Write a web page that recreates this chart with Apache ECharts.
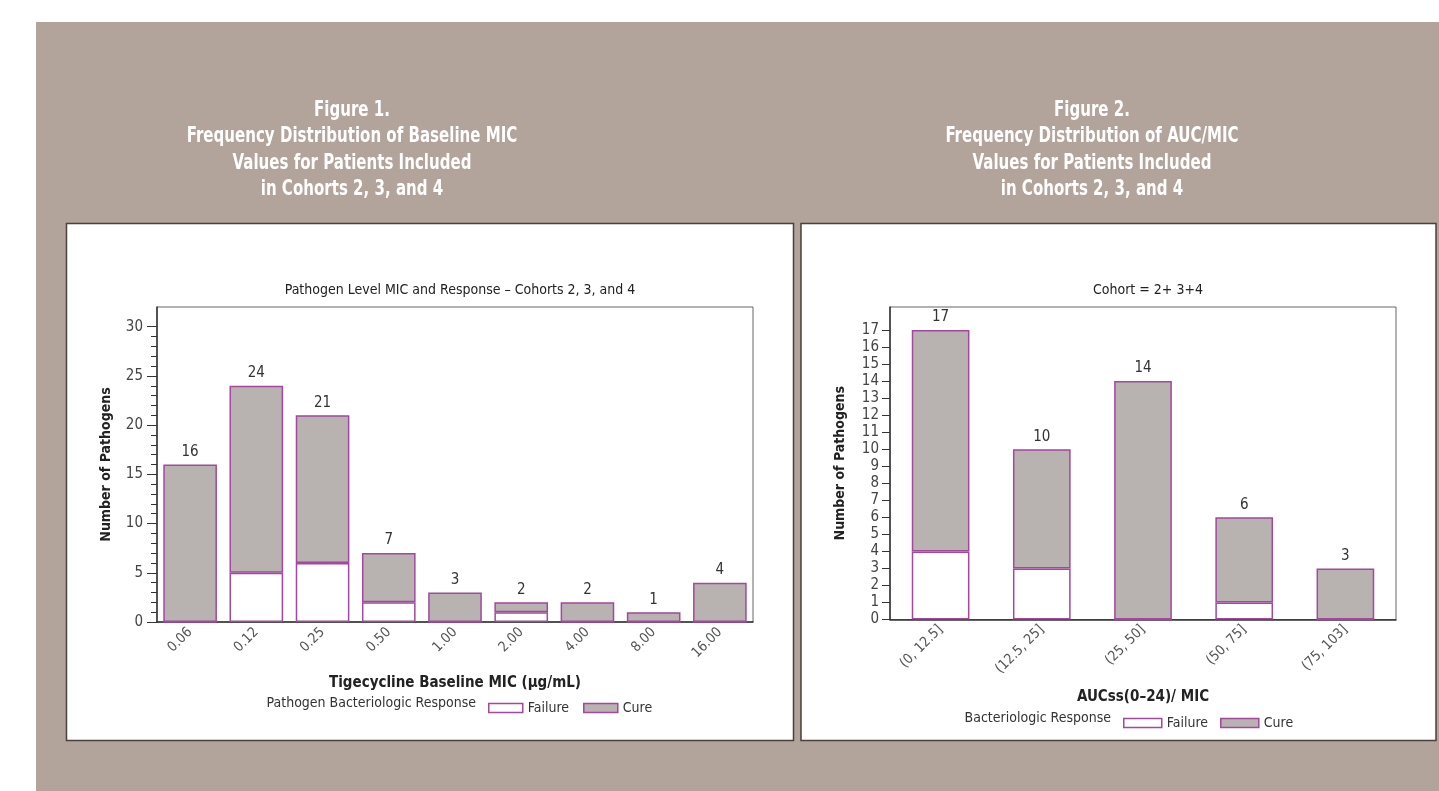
<!DOCTYPE html>
<html>
<head>
<meta charset="utf-8">
<title>Frequency Distribution of Baseline MIC and AUC/MIC</title>
<script src="https://cdn.jsdelivr.net/npm/echarts@6/dist/echarts.min.js"></script>
<style>
  html, body { margin: 0; padding: 0; background: #ffffff; }
  #chart { width: 1439px; height: 791px; }
</style>
</head>
<body>
<div id="chart"></div>
<script>
// Figure 1: pathogens by tigecycline baseline MIC (µg/mL)
const micCategories = ['0.06', '0.12', '0.25', '0.50', '1.00', '2.00', '4.00', '8.00', '16.00'];
const micFailure = [0, 5, 6, 2, 0, 1, 0, 0, 0];
const micCure = [16, 19, 15, 5, 3, 1, 2, 1, 4];
const micTotal = [16, 24, 21, 7, 3, 2, 2, 1, 4];
const micMajorTicks = [0, 5, 10, 15, 20, 25, 30];
const micMinorTicks = [0, 1, 2, 3, 4, 5, 6, 7, 8, 9, 10, 11, 12, 13, 14, 15, 16, 17, 18, 19, 20, 21, 22, 23, 24, 25, 26, 27, 28, 29, 30];

// Figure 2: pathogens by AUCss(0-24)/MIC interval
const aucCategories = ['(0, 12.5]', '(12.5, 25]', '(25, 50]', '(50, 75]', '(75, 103]'];
const aucFailure = [4, 3, 0, 1, 0];
const aucCure = [13, 7, 14, 5, 3];
const aucTotal = [17, 10, 14, 6, 3];
const aucTicks = [0, 1, 2, 3, 4, 5, 6, 7, 8, 9, 10, 11, 12, 13, 14, 15, 16, 17];

const FONT = '"Liberation Sans Narrow", "Arial Narrow", "DejaVu Sans Condensed", sans-serif';
const TAN = '#b2a39b';
const PURPLE = '#a3479f';
const GREY = '#b8b3b1';
const INK = '#333333';

const chart = echarts.init(document.getElementById('chart'), null, { renderer: 'canvas' });

// White condensed headline block above each panel
function header(lines, cx) {
  const y0 = 110, step = 26.5;
  return lines.map((t, i) => ({
    type: 'text', z: -1, silent: true,
    x: cx, y: y0 + i * step, scaleX: 0.76,
    style: {
      text: t, x: 0, y: 0,
      fill: '#ffffff', font: 'bold 22px ' + FONT,
      textAlign: 'center', textVerticalAlign: 'middle'
    }
  }));
}

function captionText(t, x, y, align) {
  return {
    type: 'text', silent: true,
    style: { text: t, x: x, y: y, fill: INK, font: '14px ' + FONT, textAlign: align, textVerticalAlign: 'middle' }
  };
}

const barLabel = (totals) => ({
  show: true, position: 'top', distance: 5,
  fontFamily: FONT, fontSize: 15, color: INK,
  formatter: (p) => String(totals[p.dataIndex])
});

const failStyle = { color: '#ffffff', borderColor: PURPLE, borderWidth: 1.5 };
const cureStyle = { color: GREY, borderColor: PURPLE, borderWidth: 1.5 };

const option = {
  animation: false,
  backgroundColor: '#ffffff',
  textStyle: { fontFamily: FONT },
  graphic: [
    { type: 'rect', z: -3, silent: true, shape: { x: 36, y: 22, width: 1403, height: 769 }, style: { fill: TAN } },
    { type: 'rect', z: -2, silent: true, shape: { x: 66.5, y: 223.5, width: 727, height: 517 }, style: { fill: '#ffffff', stroke: '#4a403c', lineWidth: 1.5 } },
    { type: 'rect', z: -2, silent: true, shape: { x: 801, y: 223.5, width: 635, height: 517 }, style: { fill: '#ffffff', stroke: '#4a403c', lineWidth: 1.5 } },
    ...header(['Figure 1.', 'Frequency Distribution of Baseline MIC', 'Values for Patients Included', 'in Cohorts 2, 3, and 4'], 352),
    ...header(['Figure 2.', 'Frequency Distribution of AUC/MIC', 'Values for Patients Included', 'in Cohorts 2, 3, and 4'], 1092),
    captionText('Pathogen Bacteriologic Response', 476, 703, 'right'),
    captionText('Bacteriologic Response', 1111, 718, 'right')
  ],
  title: [
    { text: 'Pathogen Level MIC and Response \u2013 Cohorts 2, 3, and 4', left: 455, top: 278, textAlign: 'center',
      textStyle: { fontFamily: FONT, fontSize: 14, fontWeight: 'normal', color: '#222' } },
    { text: 'Cohort = 2+ 3+4', left: 1143, top: 278, textAlign: 'center',
      textStyle: { fontFamily: FONT, fontSize: 14, fontWeight: 'normal', color: '#222' } }
  ],
  legend: [
    { left: 483, top: 696, itemWidth: 34, itemHeight: 9, itemGap: 14, icon: 'rect',
      textStyle: { fontFamily: FONT, fontSize: 14, color: INK },
      data: [{ name: 'Failure', itemStyle: failStyle }, { name: 'Cure', itemStyle: cureStyle }] },
    { left: 1118, top: 711, itemWidth: 38, itemHeight: 9, itemGap: 12, icon: 'rect',
      textStyle: { fontFamily: FONT, fontSize: 14, color: INK },
      data: [{ name: 'Failure', itemStyle: failStyle }, { name: 'Cure', itemStyle: cureStyle }] }
  ],
  grid: [
    { left: 157, top: 307, width: 596, height: 315, show: true, backgroundColor: 'transparent', borderColor: '#666', borderWidth: 1 },
    { left: 890, top: 307, width: 506, height: 312.5, show: true, backgroundColor: 'transparent', borderColor: '#666', borderWidth: 1 }
  ],
  xAxis: [
    { type: 'category', gridIndex: 0, data: micCategories,
      axisLine: { lineStyle: { color: INK, width: 1.5 } }, axisTick: { show: false },
      axisLabel: { rotate: 45, margin: 8, fontFamily: FONT, fontSize: 14, color: '#555' },
      name: 'Tigecycline Baseline MIC (\u00b5g/mL)', nameLocation: 'middle', nameGap: 54,
      nameTextStyle: { fontFamily: FONT, fontSize: 15, fontWeight: 'bold', color: '#222' } },
    { type: 'category', gridIndex: 1, data: aucCategories,
      axisLine: { lineStyle: { color: INK, width: 1.5 } }, axisTick: { show: false },
      axisLabel: { rotate: 45, margin: 8, fontFamily: FONT, fontSize: 14, color: '#555' },
      name: 'AUCss(0\u201324)/ MIC', nameLocation: 'middle', nameGap: 70,
      nameTextStyle: { fontFamily: FONT, fontSize: 15, fontWeight: 'bold', color: '#222' } }
  ],
  yAxis: [
    { type: 'value', gridIndex: 0, min: 0, max: 32, position: 'left',
      splitLine: { show: false },
      axisLine: { show: true, lineStyle: { color: INK, width: 1.5 } },
      axisTick: { show: true, length: 6, customValues: micMinorTicks, lineStyle: { color: INK } },
      axisLabel: { customValues: micMajorTicks, margin: 14, fontFamily: FONT, fontSize: 15, color: '#444' },
      name: 'Number of Pathogens', nameLocation: 'middle', nameGap: 44,
      nameTextStyle: { fontFamily: FONT, fontSize: 14, fontWeight: 'bold', color: '#222' } },
    { type: 'value', gridIndex: 0, min: 0, max: 32, position: 'left', offset: 0,
      splitLine: { show: false }, axisLine: { show: false },
      axisTick: { show: true, length: 10, customValues: micMajorTicks, lineStyle: { color: INK } },
      axisLabel: { show: false } },
    { type: 'value', gridIndex: 1, min: 0, max: 18.35, position: 'left',
      splitLine: { show: false },
      axisLine: { show: true, lineStyle: { color: INK, width: 1.5 } },
      axisTick: { show: true, length: 8, customValues: aucTicks, lineStyle: { color: INK } },
      axisLabel: { customValues: aucTicks, margin: 11, fontFamily: FONT, fontSize: 15, color: '#444' },
      name: 'Number of Pathogens', nameLocation: 'middle', nameGap: 43,
      nameTextStyle: { fontFamily: FONT, fontSize: 14, fontWeight: 'bold', color: '#222' } }
  ],
  series: [
    { name: 'Failure', type: 'bar', xAxisIndex: 0, yAxisIndex: 0, stack: 'mic', barWidth: '81%',
      data: micFailure, itemStyle: failStyle },
    { name: 'Cure', type: 'bar', xAxisIndex: 0, yAxisIndex: 0, stack: 'mic', barWidth: '81%',
      data: micCure, itemStyle: cureStyle, label: barLabel(micTotal) },
    { name: 'Failure', type: 'bar', xAxisIndex: 1, yAxisIndex: 2, stack: 'auc', barWidth: '57%',
      data: aucFailure, itemStyle: failStyle },
    { name: 'Cure', type: 'bar', xAxisIndex: 1, yAxisIndex: 2, stack: 'auc', barWidth: '57%',
      data: aucCure, itemStyle: cureStyle, label: barLabel(aucTotal) }
  ]
};

chart.setOption(option);
</script>
</body>
</html>
